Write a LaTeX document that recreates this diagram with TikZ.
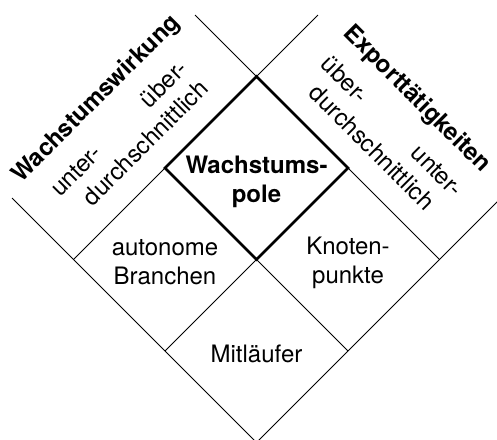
\documentclass[tikz,border=0pt]{standalone}
\usepackage{fontspec}
\setmainfont{TeX Gyre Heros}
\begin{document}
\begin{tikzpicture}[
  thinline/.style={line width=1pt},
  poleline/.style={line width=2.6pt, line join=miter},
  celltext/.style={align=center, font=\fontsize{24}{29}\selectfont},
  titletext/.style={font=\fontsize{24}{29}\selectfont\bfseries, transform shape},
  striptext/.style={font=\fontsize{24}{29}\selectfont, transform shape}
]

  % Fix the page to the size of the reference and cut off what sticks out
  \useasboundingbox (0pt,0pt) rectangle (497pt,439pt);
  \clip (0pt,0pt) rectangle (497pt,439pt);

  % The grid is drawn in a frame turned by 45 degrees, one unit per cell
  \begin{scope}[shift={(256.5pt,-3.5pt)}, rotate=45, x=129.4pt, y=129.4pt]

    % Define the corners of the 2x2 grid
    \coordinate (S) at (0, 0);
    \coordinate (E) at (2, 0);
    \coordinate (N) at (2, 2);
    \coordinate (W) at (0, 2);

    % Middles of the sides and the centre
    \coordinate (SE) at (1, 0);
    \coordinate (NE) at (2, 1);
    \coordinate (NW) at (1, 2);
    \coordinate (SW) at (0, 1);
    \coordinate (C) at (1, 1);

    % Free ends of the lines that border the two strips
    \coordinate (Wtop) at (0, 2.672);
    \coordinate (Ntop) at (2, 2.672);
    \coordinate (Nout) at (2.672, 2);
    \coordinate (Eout) at (2.672, 0);

    % Centres of the four cells
    \coordinate (mid pole) at (1.5, 1.5);
    \coordinate (mid left) at (0.5, 1.5);
    \coordinate (mid right) at (1.5, 0.5);
    \coordinate (mid bottom) at (0.5, 0.5);

    % Draw the thin lines of the grid
    \draw[thinline] (S) -- (Wtop);
    \draw[thinline] (SE) -- (NW);
    \draw[thinline] (E) -- (Ntop);
    \draw[thinline] (S) -- (Eout);
    \draw[thinline] (SW) -- (NE);
    \draw[thinline] (W) -- (Nout);

    % Draw the thick frame round the growth poles
    \draw[poleline] (C) -- (NE) -- (N) -- (NW) -- cycle;

    % Labels of the left strip, turned along the strip
    \node[titletext] (wirkung) at (1, 2.749) {Wachstumswirkung};
    \node[striptext] (wunter) at (0.5, 2.47) {unter-};
    \node[striptext] (wueber) at (1.45, 2.47) {über-};
    \node[striptext] (wdurch) at (1.03, 2.246) {durchschnittlich};

    % Labels of the right strip, turned the other way
    \node[titletext, rotate=-90] (export) at (2.749, 1) {Exporttätigkeiten};
    \node[striptext, rotate=-90] (eueber) at (2.47, 1.5) {über-};
    \node[striptext, rotate=-90] (eunter) at (2.47, 0.5) {unter-};
    \node[striptext, rotate=-90] (edurch) at (2.246, 0.98) {durchschnittlich};

  \end{scope}

  % Add the labels of the cells, kept upright
  \node[celltext, font=\fontsize{24}{29}\selectfont\bfseries] (pole) at ([yshift=-14pt]mid pole) {Wachstums-\\pole};
  \node[celltext] (autonom) at ([yshift=-3pt]mid left) {autonome\\Branchen};
  \node[celltext] (knoten) at ([yshift=-3pt]mid right) {Knoten-\\punkte};
  \node[celltext] (mitlauf) at ([yshift=-3pt]mid bottom) {Mitläufer};

\end{tikzpicture}
\end{document}
